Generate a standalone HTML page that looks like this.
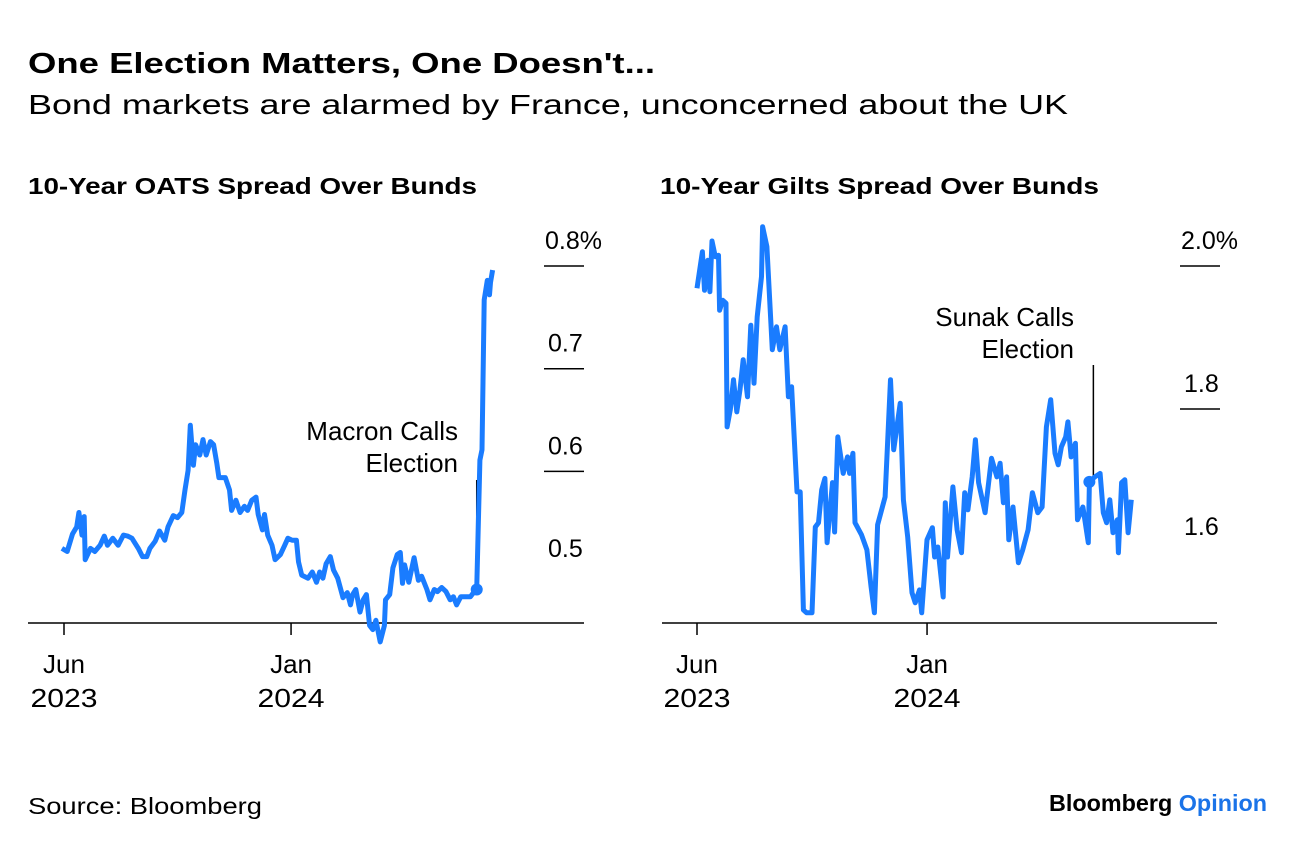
<!DOCTYPE html>
<html><head><meta charset="utf-8"><style>
body{margin:0;background:#fff;width:1296px;height:846px;overflow:hidden;font-family:"Liberation Sans",sans-serif;}
</style></head><body>
<svg id="c" width="1296" height="846" xmlns="http://www.w3.org/2000/svg" font-family="Liberation Sans, sans-serif">
<text x="28" y="73" font-size="29" font-weight="bold" fill="#000" textLength="627" lengthAdjust="spacingAndGlyphs">One Election Matters, One Doesn't...</text>
<text x="28" y="114" font-size="28" fill="#000" textLength="1040" lengthAdjust="spacingAndGlyphs">Bond markets are alarmed by France, unconcerned about the UK</text>
<text x="28" y="194" font-size="23" font-weight="bold" fill="#000" textLength="449" lengthAdjust="spacingAndGlyphs">10-Year OATS Spread Over Bunds</text>
<text x="660" y="194" font-size="23" font-weight="bold" fill="#000" textLength="439" lengthAdjust="spacingAndGlyphs">10-Year Gilts Spread Over Bunds</text>
<text x="28" y="814" font-size="23" fill="#000" textLength="234" lengthAdjust="spacingAndGlyphs">Source: Bloomberg</text>
<text x="1049" y="811" font-size="23" font-weight="bold" fill="#000" textLength="218" lengthAdjust="spacingAndGlyphs">Bloomberg <tspan fill="#1a73e8">Opinion</tspan></text>
<g id="L"></g>
<g id="R"></g>
</svg>
<script>
// OATS spread: day offsets from 2023-06-01, values in %
const oatsDays=[-2,3,8,12,14,17,19,20,25,29,34,38,41,46,51,56,60,64,70,74,78,81,86,90,95,98,103,107,111,114,117,119,122,124,128,131,134,138,141,144,146,152,156,158,162,166,170,173,177,181,183,187,189,192,196,199,204,208,211,215,219,221,224,230,234,238,241,244,247,251,254,258,263,267,270,272,275,279,282,285,288,291,294,298,302,303,307,310,314,317,319,321,325,330,334,337,342,345,349,352,356,360,364,367,370,374,378,383,386,389,392,394,396,399,401,402,404];
const oatsVals=[0.525,0.522,0.539,0.546,0.560,0.538,0.556,0.514,0.525,0.522,0.528,0.537,0.528,0.535,0.528,0.538,0.537,0.535,0.525,0.517,0.517,0.525,0.532,0.542,0.533,0.546,0.557,0.555,0.560,0.582,0.601,0.645,0.606,0.626,0.616,0.631,0.616,0.629,0.626,0.608,0.594,0.594,0.582,0.562,0.572,0.560,0.566,0.562,0.572,0.575,0.558,0.543,0.558,0.538,0.528,0.514,0.519,0.528,0.535,0.533,0.533,0.512,0.499,0.496,0.502,0.492,0.502,0.496,0.510,0.517,0.504,0.496,0.477,0.482,0.470,0.480,0.485,0.463,0.475,0.480,0.450,0.446,0.455,0.434,0.450,0.475,0.480,0.506,0.519,0.521,0.491,0.509,0.492,0.516,0.494,0.498,0.485,0.475,0.485,0.483,0.487,0.483,0.475,0.478,0.470,0.478,0.478,0.478,0.482,0.485,0.611,0.621,0.767,0.786,0.772,0.784,0.796];
const oatsTicks=[0.8,0.7,0.6,0.5];
const oatsTickLabels=["0.8%","0.7","0.6","0.5"];
const oatsEvent=389;
// Gilts spread
const giltDays=[0,5,7,10,12,14,17,20,21,24,27,28,31,34,37,40,43,47,50,53,56,60,61,65,70,74,77,82,85,88,93,96,99,102,107,110,113,116,119,121,126,128,131,136,140,142,145,147,153,158,162,165,168,175,180,183,189,192,196,200,203,207,209,214,219,221,224,229,231,233,238,242,246,249,252,256,259,262,268,274,279,282,285,288,290,294,299,303,308,312,317,321,325,329,333,336,339,343,345,348,352,354,359,364,365,370,375,378,381,384,387,391,392,395,398,401,404];
const giltVals=[1.969,2.020,1.966,2.008,1.964,2.035,2.013,2.015,1.938,1.952,1.948,1.775,1.799,1.841,1.796,1.827,1.869,1.817,1.917,1.836,1.929,1.985,2.055,2.027,1.883,1.915,1.883,1.915,1.817,1.831,1.684,1.684,1.519,1.515,1.515,1.635,1.641,1.687,1.703,1.613,1.697,1.628,1.761,1.710,1.733,1.710,1.738,1.641,1.624,1.603,1.551,1.515,1.638,1.677,1.841,1.743,1.808,1.673,1.621,1.543,1.529,1.547,1.515,1.617,1.634,1.593,1.607,1.537,1.669,1.593,1.691,1.631,1.599,1.683,1.659,1.705,1.757,1.697,1.655,1.731,1.705,1.724,1.669,1.705,1.617,1.663,1.585,1.603,1.631,1.683,1.655,1.663,1.775,1.813,1.738,1.722,1.747,1.761,1.782,1.733,1.752,1.645,1.663,1.613,1.698,1.705,1.710,1.655,1.641,1.673,1.627,1.645,1.599,1.697,1.701,1.627,1.673];
const giltTicks=[2.0,1.8,1.6];
const giltTickLabels=["2.0%","1.8","1.6"];
const giltEvent=365;
const xLabels=[["Jun","2023"],["Jan","2024"]];
const xTickDays=[0,214];

const NS="http://www.w3.org/2000/svg";
function mk(p,t,a){const e=document.createElementNS(NS,t);for(const k in a)e.setAttribute(k,a[k]);p.appendChild(e);return e;}
function panel(g,days,vals,ticks,labels,ev,cfg){
  const sx=d=>cfg.x0+d*cfg.kx, sy=v=>cfg.y0-(v-cfg.v0)*cfg.ky;
  const ax=mk(g,'line',{x1:cfg.a0,x2:cfg.a1,y1:623,y2:623,stroke:'#000','stroke-width':1.5});
  
  
  xTickDays.forEach((d,i)=>{
    const t=mk(g,'line',{x1:sx(d),x2:sx(d),y1:623,y2:635,stroke:'#000','stroke-width':1.5});
    
    
    const l=mk(g,'text',{x:sx(d),y:673,'font-size':26,'text-anchor':'middle'});l.textContent=xLabels[i][0];
    
    
    const l2=mk(g,'text',{x:sx(d),y:707,'font-size':26,'text-anchor':'middle',textLength:67,lengthAdjust:'spacingAndGlyphs'});l2.textContent=xLabels[i][1];
    
    
  });
  ticks.forEach((v,i)=>{
    const y=sy(v);
    if(i<ticks.length-1){const t=mk(g,'line',{x1:cfg.tx,x2:cfg.tx+40,y1:y,y2:y,stroke:'#000','stroke-width':1.5});
    
    }
    const l=mk(g,'text',{x:cfg.tx+(i==0?1:4),y:y-17,'font-size':25});l.textContent=labels[i];
    
    
  });
  const k=days.indexOf(ev);const evY=sy(vals[k]);
  const al=mk(g,'line',{x1:sx(ev)+cfg.ldx,x2:sx(ev)+cfg.ldx,y1:cfg.ly,y2:evY,stroke:'#000','stroke-width':1.5});
  
  
  cfg.note.forEach((s,i)=>{const t=mk(g,'text',{x:cfg.nx,y:cfg.ny+i*32,'font-size':26,'text-anchor':'end'});t.textContent=s;
    
    });
  const pl=mk(g,'polyline',{points:days.map((d,i)=>sx(d).toFixed(1)+','+sy(vals[i]).toFixed(1)).join(' '),fill:'none',stroke:'#1a7cff','stroke-width':5,'stroke-linejoin':'round'});
  
  
  const dot=mk(g,'circle',{cx:sx(ev),cy:evY,r:6,fill:'#1a7cff'});
  
  
}
panel(document.getElementById('L'),oatsDays,oatsVals,oatsTicks,oatsTickLabels,oatsEvent,
 {x0:64,kx:1.061,y0:266,v0:0.8,ky:1027,a0:28,a1:584,tx:544,ldx:0,ly:480,note:["Macron Calls","Election"],nx:458,ny:440});
panel(document.getElementById('R'),giltDays,giltVals,giltTicks,giltTickLabels,giltEvent,
 {x0:697,kx:1.075,y0:266,v0:2.0,ky:715,a0:662,a1:1217,tx:1180,ldx:4,ly:365,note:["Sunak Calls","Election"],nx:1074,ny:326});
</script>
</body></html>
